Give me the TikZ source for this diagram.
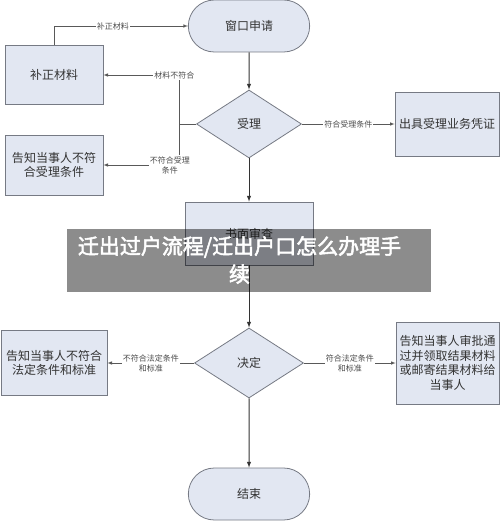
\documentclass[tikz,border=0pt]{standalone}
\usepackage{fontspec}
\setmainfont{Noto Sans CJK SC}
\newfontfamily\bannerfont{Noto Sans CJK SC}[FakeBold=2.5]
\usepackage{xcolor}
\usepackage{tikz}
\usetikzlibrary{shapes,arrows,positioning,calc}
\definecolor{boxfill}{RGB}{226,231,242}
\definecolor{boxline}{RGB}{118,122,132}

\begin{document}
\begin{tikzpicture}[x=1pt, y=-1pt, >=latex,
    box/.style={draw=boxline, fill=boxfill, rectangle, line width=0.8pt, inner sep=2pt, align=center, text=black!80, font=\fontsize{12}{14.5}\selectfont},
    term/.style={draw=boxline, fill=boxfill, rounded rectangle, line width=0.8pt, minimum width=128, minimum height=52, text=black!80, font=\fontsize{12}{14.5}\selectfont},
    choice/.style={draw=boxline, fill=boxfill, diamond, aspect=1.5, inner sep=0pt, line width=0.8pt, text=black!80, font=\fontsize{12}{14.5}\selectfont},
    lbl/.style={fill=white, inner sep=1pt, align=center, text=black!70, font=\fontsize{8}{10}\selectfont},
    main/.style={draw=black!80, line width=1pt},
    side/.style={draw=black!65, line width=0.6pt},
    band/.style={fill=black, fill opacity=0.45, minimum width=364, minimum height=63, inner sep=0pt},
    caption/.style={text=white, align=center, font=\bannerfont\fontsize{21}{28}\selectfont}]
    \useasboundingbox (0,0) rectangle (500,521);

    \node[term] (start) at (249,26) {窗口申请};
    \node[choice, minimum width=105, minimum height=68] (accept) at (249,124) {受理};
    \node[box, minimum width=98, minimum height=59] (fix) at (54,75) {补正材料};
    \node[box, minimum width=98, minimum height=60] (refuse) at (54,165) {告知当事人不符\\合受理条件};
    \node[box, minimum width=104, minimum height=64] (voucher) at (447,124) {出具受理业务凭证};
    \node[box, minimum width=128, minimum height=63] (review) at (249,233.5) {书面审查};
    \node[choice, minimum width=109, minimum height=70] (decide) at (249,363) {决定};
    \node[box, minimum width=106, minimum height=65] (deny) at (54,363) {告知当事人不符合\\法定条件和标准};
    \node[box, minimum width=103, minimum height=82] (notify) at (447.5,363) {告知当事人审批通\\过并领取结果材料\\或邮寄结果材料给\\当事人};
    \node[term] (finish) at (249,494) {结束};

    \coordinate (split) at (179,124);
    \draw[main,->] (start) -- (accept);
    \draw[side] (accept) -- (split);
    \draw[side,->] (split) |- node[lbl, pos=0.53] {材料不符合} (fix);
    \draw[side,->] (split) |- node[lbl, pos=0.56] {不符合受理\\条件} (refuse);
    \draw[side,->] (fix) |- node[lbl, pos=0.72] {补正材料} (start);
    \draw[side,->] (accept) -- node[lbl] {符合受理条件} (voucher);
    \draw[main,->] (accept) -- (review);
    \draw[main,->] (review) -- (decide);
    \draw[side,->] (decide) -- node[lbl] {不符合法定条件\\和标准} (deny);
    \draw[side,->] (decide) -- node[lbl] {符合法定条件\\和标准} (notify);
    \draw[main,->] (decide) -- (finish);

    % banner over the middle
    \node[band] (strip) at (249,260.5) {};
    \node[caption] (title) at (239.5,260) {迁出过户流程/迁出户口怎么办理手\\续};
\end{tikzpicture}
\end{document}
